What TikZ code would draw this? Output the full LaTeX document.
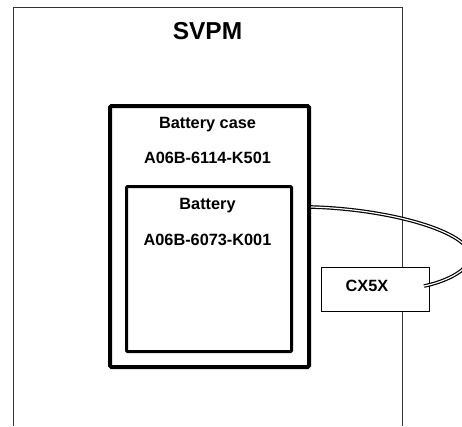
\documentclass[tikz,border=0pt]{standalone}
\usepackage{fontspec}
\setmainfont{Liberation Sans}
\begin{document}
\begin{tikzpicture}[x=1pt,y=-1pt,
  lbl/.style={font=\bfseries\fontsize{16.3}{19}\selectfont, inner sep=0pt},
  frame/.style={draw=black!80, line width=1pt},
  cable/.style={line width=3.6pt},
  cablecore/.style={white, line width=1.2pt},
]
\useasboundingbox (0,0) rectangle (462,426);
% SVPM frame (open at bottom)
\draw[frame] (13,426) -- (13,7) -- (402,7) -- (402,426);
\node[font=\bfseries\fontsize{24.5}{28}\selectfont, inner sep=0pt] (svpm) at (207.5,31.5) {SVPM};
% battery case
\node[draw, line width=4pt, rounded corners=1.5pt, minimum width=199pt, minimum height=261pt, inner sep=0pt, anchor=north west] (case) at (108,104) {};
\node[lbl] (casetxt) at (207.5,125) {Battery case};
\node[lbl] (casenum) at (207.5,158) {A06B-6114-K501};
% battery
\node[draw, line width=3pt, rounded corners=1pt, minimum width=165pt, minimum height=165pt, inner sep=0pt, anchor=north west] (bat) at (125,185) {};
\node[lbl] (battxt) at (207.5,206) {Battery};
\node[lbl] (batnum) at (207.5,240) {A06B-6073-K001};
% CX5X connector
\node[draw, fill=white, line width=0.8pt, minimum width=108pt, minimum height=44pt, inner sep=0pt, anchor=north west] (cx) at (321,267) {};
\node[lbl] (cxtxt) at (367,285.5) {CX5X};
\coordinate (cstart) at (case.east |- 0,207);
\coordinate (cend) at (424,286);
% cable (double line)
\draw[cable] (cstart) .. controls (390,209) and (470,232) .. (470,256) .. controls (470,272) and (440,283) .. (cend);
\draw[cablecore] (cstart) .. controls (390,209) and (470,232) .. (470,256) .. controls (470,272) and (440,283) .. (cend);
\end{tikzpicture}
\end{document}
